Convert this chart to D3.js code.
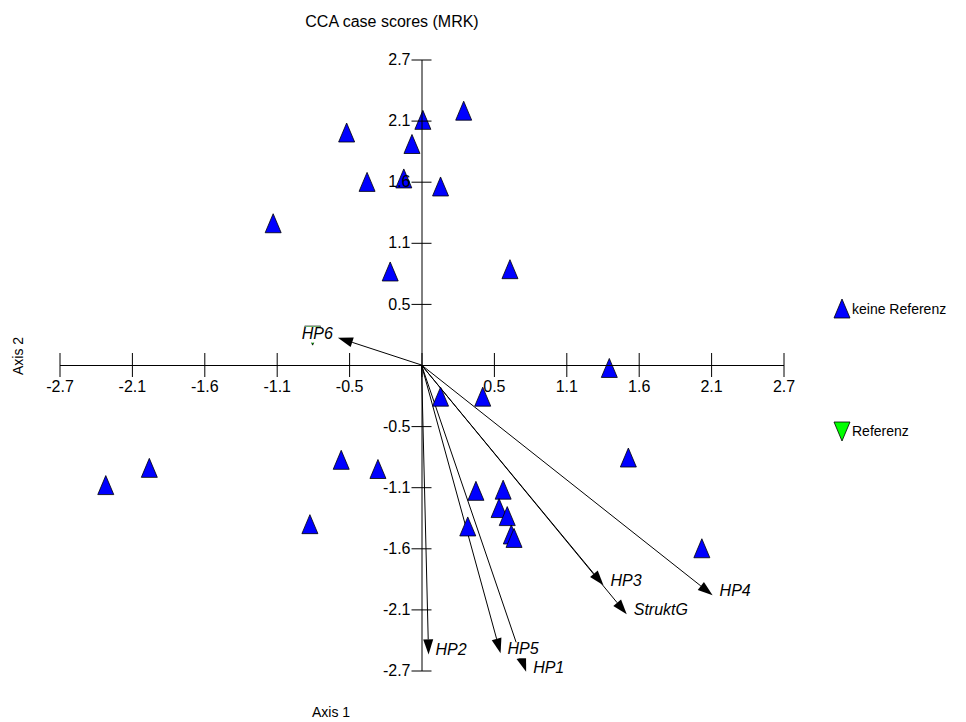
<!DOCTYPE html>
<html>
<head>
<meta charset="utf-8">
<script src="https://cdn.jsdelivr.net/npm/d3@7"></script>
<style>
  body { margin: 0; background: #fff; }
  text { font-family: Arial, "Liberation Sans", sans-serif; fill: #000; }
</style>
</head>
<body>
<svg width="966" height="722"></svg>
<script>
// axis ticks (equal steps of max/5) and the labels the chart prints for them
const axisTicks = [-2.66, -2.128, -1.596, -1.064, -0.532, 0, 0.532, 1.064, 1.596, 2.128, 2.66];
const tickLabels = ["-2.7", "-2.1", "-1.6", "-1.1", "-0.5", "", "0.5", "1.1", "1.6", "2.1", "2.7"];

// case scores, group "keine Referenz"
const caseX = [0.31, 0.01, -0.55, -0.07, -0.40, -0.13, 0.14, -1.09, -0.23, 0.65,
               1.38, 0.14, 0.45, 1.52, -2.32, -2.00, -0.59, -0.32, -0.82,
               0.40, 0.60, 0.57, 0.63, 0.34, 0.66, 0.68, 2.06];
const caseY = [2.21, 2.13, 2.02, 1.92, 1.59, 1.62, 1.55, 1.23, 0.81, 0.83,
               -0.03, -0.28, -0.28, -0.81, -1.05, -0.90, -0.83, -0.91, -1.39,
               -1.10, -1.09, -1.25, -1.32, -1.41, -1.48, -1.51, -1.60];

// case scores, group "Referenz" (sits under the HP6 label)
const refX = [-0.80];
const refY = [0.26];

// biplot vectors
const vectorNames = ["HP6", "HP2", "HP5", "HP1", "HP3", "StruktG", "HP4"];
const vectorX = [-0.614, 0.052, 0.581, 0.769, 1.337, 1.508, 2.139];
const vectorY = [0.238, -2.52, -2.51, -2.67, -1.918, -2.171, -2.005];

const svg = d3.select("svg");

const x = d3.scaleLinear().domain([-2.66, 2.66]).range([59.5, 783.5]);
const y = d3.scaleLinear().domain([-2.66, 2.66]).range([670.5, 59.5]);
const x0 = x(0), y0 = y(0);

// title
svg.append("text")
    .attr("x", 392).attr("y", 27)
    .attr("text-anchor", "middle")
    .style("font-size", "16px")
    .text("CCA case scores (MRK)");

// axis titles
svg.append("text")
    .attr("x", 331).attr("y", 717)
    .attr("text-anchor", "middle")
    .style("font-size", "14px")
    .text("Axis 1");

svg.append("text")
    .attr("transform", "translate(23,356) rotate(-90)")
    .attr("text-anchor", "middle")
    .style("font-size", "14px")
    .text("Axis 2");

// vectors
const vectors = vectorNames.map((n, i) => ({ name: n, vx: vectorX[i], vy: vectorY[i] }));
const gVec = svg.append("g");
vectors.forEach(d => {
    const tx = x(d.vx), ty = y(d.vy);
    const len = Math.hypot(tx - x0, ty - y0);
    const ux = (tx - x0) / len, uy = (ty - y0) / len;
    const hl = 15, hw = 5;
    const bx = tx - ux * hl, by = ty - uy * hl;
    gVec.append("line")
        .attr("x1", x0).attr("y1", y0)
        .attr("x2", bx).attr("y2", by)
        .attr("stroke", "#000").attr("stroke-width", 1);
    gVec.append("path")
        .attr("d", `M${tx},${ty}L${bx - uy * hw},${by + ux * hw}L${bx + uy * hw},${by - ux * hw}Z`)
        .attr("fill", "#000");
});

// points
const up = "M0,-10L8,9L-8,9Z";
const down = "M0,10L8,-9L-8,-9Z";
svg.append("g").selectAll("path")
    .data(caseX.map((v, i) => [v, caseY[i]]))
    .enter().append("path")
    .attr("d", up)
    .attr("transform", d => `translate(${x(d[0])},${y(d[1])})`)
    .attr("fill", "#0000ff")
    .attr("stroke", "#000")
    .attr("stroke-width", 0.8);

svg.append("g").selectAll("path")
    .data(refX.map((v, i) => [v, refY[i]]))
    .enter().append("path")
    .attr("d", down)
    .attr("transform", d => `translate(${x(d[0])},${y(d[1])})`)
    .attr("fill", "#00ff00")
    .attr("stroke", "#000")
    .attr("stroke-width", 0.8);

// axes crossing at the origin
const xAxis = svg.append("g")
    .attr("transform", `translate(0,${y0})`)
    .call(d3.axisBottom(x).tickValues(axisTicks)
        .tickFormat((d, i) => tickLabels[i]).tickSizeOuter(0));
xAxis.selectAll(".tick line").attr("y1", -12).attr("y2", 12);
xAxis.selectAll(".tick text").attr("y", 16).style("font-size", "16px").style("font-family", "Arial, 'Liberation Sans', sans-serif");

const yAxis = svg.append("g")
    .attr("transform", `translate(${x0},0)`)
    .call(d3.axisLeft(y).tickValues(axisTicks)
        .tickFormat((d, i) => tickLabels[i]).tickSizeOuter(0));
yAxis.selectAll(".tick line").attr("x1", -10).attr("x2", 10);
yAxis.selectAll(".tick text").attr("x", -11).style("font-size", "16px").style("font-family", "Arial, 'Liberation Sans', sans-serif");
svg.selectAll(".domain").attr("stroke", "#000");
svg.selectAll(".tick line").attr("stroke", "#000");

// vector labels with white boxes
const gLab = svg.append("g");
vectors.forEach(d => {
    const tx = x(d.vx), ty = y(d.vy);
    const left = tx < x0;
    const t = gLab.append("text")
        .attr("x", left ? tx - 5 : tx + 7)
        .attr("y", ty + 1)
        .attr("text-anchor", left ? "end" : "start")
        .style("font-size", "16px")
        .style("font-style", "italic")
        .text(d.name);
    const b = t.node().getBBox();
    gLab.insert("rect", () => t.node())
        .attr("x", b.x - 1).attr("y", b.y + 2)
        .attr("width", b.width + 2).attr("height", b.height - 1)
        .attr("fill", "#fff");
});

// legend
const legend = svg.append("g");
legend.append("path").attr("d", up)
    .attr("transform", "translate(842,309)")
    .attr("fill", "#0000ff").attr("stroke", "#000").attr("stroke-width", 0.8);
legend.append("text").attr("x", 852).attr("y", 314)
    .style("font-size", "14px").text("keine Referenz");
legend.append("path").attr("d", down)
    .attr("transform", "translate(842,431)")
    .attr("fill", "#00ff00").attr("stroke", "#000").attr("stroke-width", 0.8);
legend.append("text").attr("x", 852).attr("y", 436)
    .style("font-size", "14px").text("Referenz");
</script>
</body>
</html>
